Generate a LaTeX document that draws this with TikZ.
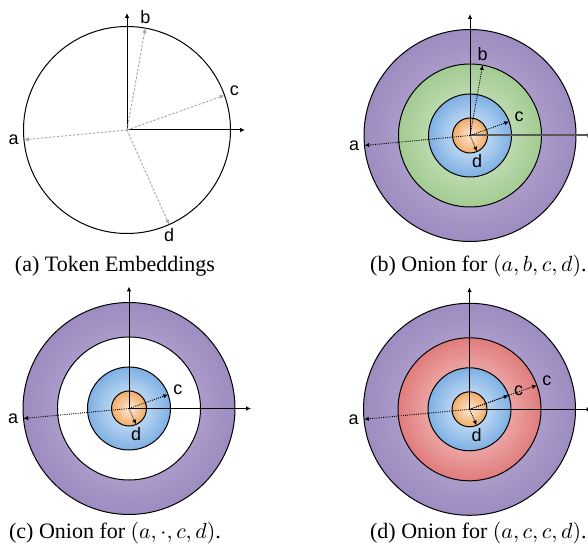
\documentclass[tikz,border=0pt]{standalone}
\usepackage{fontspec}
\setmainfont{Liberation Serif}
\setsansfont{Liberation Sans}
\usetikzlibrary{arrows.meta,calc}
\definecolor{purpleIn}{HTML}{C6BADF}
\definecolor{purpleOut}{HTML}{9C8CC0}
\definecolor{greenIn}{HTML}{DCEDD3}
\definecolor{greenOut}{HTML}{A3CB92}
\definecolor{redIn}{HTML}{FCDADA}
\definecolor{redOut}{HTML}{E07C7C}
\definecolor{blueIn}{HTML}{E2EFFB}
\definecolor{blueOut}{HTML}{7EB0E3}
\definecolor{orangeIn}{HTML}{FDE8D6}
\definecolor{orangeOut}{HTML}{F0AC68}
\tikzset{
  axis/.style={-{Latex[length=2.4pt,width=2.2pt]},line width=0.5pt},
  thickaxis/.style={-{Latex[length=2.4pt,width=2.2pt]},line width=1pt,draw=black!65},
  embvec/.style={-{Latex[length=2.4pt,width=2.2pt]},draw=black!35,line width=0.45pt,dash pattern=on 1.2pt off 0.8pt},
  onionvec/.style={-{Latex[length=2.4pt,width=2.2pt]},line width=0.45pt,dash pattern=on 0.5pt off 0.6pt},
  shell/.style={draw,line width=0.5pt},
  veclab/.style={font=\sffamily\fontsize{9}{10}\selectfont,inner sep=1pt},
  subcap/.style={font=\fontsize{11}{13}\selectfont,inner sep=0pt}
}

\begin{document}
\begin{tikzpicture}[x=0.5pt,y=0.5pt]
\useasboundingbox (0,0) rectangle (588,551);

% (a) token embeddings
\coordinate (Oa) at (127,421);
\draw[shell] (Oa) circle[radius=103.5];
\draw[axis] (Oa) -- ($(Oa)+(0,117)$) coordinate (Oa-y);
\draw[axis] (Oa) -- ($(Oa)+(118,0)$) coordinate (Oa-x);
\coordinate (a-a) at ($(Oa)+(185.4:103.5)$);
\coordinate (a-b) at ($(Oa)+(79.8:103.5)$);
\coordinate (a-c) at ($(Oa)+(19.6:103.5)$);
\coordinate (a-d) at ($(Oa)+(-66:103.5)$);
\foreach \v in {a,b,c,d}
  \draw[embvec] (Oa) -- (a-\v);
\node[veclab, left=1.5pt] (la-a) at (a-a) {a};
\node[veclab, above=1pt] (la-b) at (a-b) {b};
\node[veclab, right=1.5pt, yshift=2.5pt] (la-c) at (a-c) {c};
\node[veclab, below=1pt] (la-d) at (a-d) {d};
\node[subcap] (cap-a) at (115,285) {(a) Token Embeddings};

% (b) onion for (a,b,c,d)
\coordinate (Ob) at (470,415.5);
\draw[shell, inner color=purpleIn, outer color=purpleOut] (Ob) circle[radius=106];
\draw[shell, inner color=greenIn, outer color=greenOut] (Ob) circle[radius=71.5];
\draw[shell, inner color=blueIn, outer color=blueOut] (Ob) circle[radius=41.5];
\draw[shell, inner color=orangeIn, outer color=orangeOut] (Ob) circle[radius=17.5];
\draw[axis] (Ob) -- ($(Ob)+(0,121.5)$) coordinate (Ob-y);
\draw[thickaxis] (Ob) -- ($(Ob)+(122,0)$) coordinate (Ob-x);
\coordinate (b-a) at ($(Ob)+(185.4:106)$);
\coordinate (b-b) at ($(Ob)+(79.8:71.5)$);
\coordinate (b-c) at ($(Ob)+(19.6:41.5)$);
\coordinate (b-d) at ($(Ob)+(-66:17.5)$);
\foreach \v in {a,b,c,d}
  \draw[onionvec] (Ob) -- (b-\v);
\node[veclab, left=1.5pt] (lb-a) at (b-a) {a};
\node[veclab, above=1pt] (lb-b) at (b-b) {b};
\node[veclab, right=1.5pt, yshift=2.5pt] (lb-c) at (b-c) {c};
\node[veclab, below=0.5pt] (lb-d) at (b-d) {d};
\node[subcap, anchor=east] (cap-b) at (587,285) {(b) Onion for $(a,b,c,d)$.};

% (c) onion for (a,.,c,d)
\coordinate (Oc) at (129,142.5);
\draw[shell, inner color=purpleIn, outer color=purpleOut] (Oc) circle[radius=106];
\draw[shell, fill=white] (Oc) circle[radius=71.5];
\draw[shell, inner color=blueIn, outer color=blueOut] (Oc) circle[radius=41.5];
\draw[shell, inner color=orangeIn, outer color=orangeOut] (Oc) circle[radius=17.5];
\draw[axis] (Oc) -- ($(Oc)+(0,122)$) coordinate (Oc-y);
\draw[axis] (Oc) -- ($(Oc)+(122,0)$) coordinate (Oc-x);
\coordinate (c-a) at ($(Oc)+(185.4:106)$);
\coordinate (c-c) at ($(Oc)+(19.6:41.5)$);
\coordinate (c-d) at ($(Oc)+(-66:17.5)$);
\foreach \v in {a,c,d}
  \draw[onionvec] (Oc) -- (c-\v);
\node[veclab, left=1.5pt] (lc-a) at (c-a) {a};
\node[veclab, right=1.5pt, yshift=2.5pt] (lc-c) at (c-c) {c};
\node[veclab, below=0.5pt] (lc-d) at (c-d) {d};
\node[subcap] (cap-c) at (115,18) {(c) Onion for $(a,\cdot,c,d)$.};

% (d) onion for (a,c,c,d)
\coordinate (Od) at (469.5,141.7);
\draw[shell, inner color=purpleIn, outer color=purpleOut] (Od) circle[radius=106];
\draw[shell, inner color=redIn, outer color=redOut] (Od) circle[radius=71.5];
\draw[shell, inner color=blueIn, outer color=blueOut] (Od) circle[radius=41.5];
\draw[shell, inner color=orangeIn, outer color=orangeOut] (Od) circle[radius=17.5];
\draw[axis] (Od) -- ($(Od)+(0,122)$) coordinate (Od-y);
\draw[axis] (Od) -- ($(Od)+(122,0)$) coordinate (Od-x);
\coordinate (d-a) at ($(Od)+(185.4:106)$);
\coordinate (d-b) at ($(Od)+(19.6:71.5)$);
\coordinate (d-c) at ($(Od)+(19.6:41.5)$);
\coordinate (d-d) at ($(Od)+(-66:17.5)$);
\foreach \v in {a,b,c,d}
  \draw[onionvec] (Od) -- (d-\v);
\node[veclab, left=1.5pt] (ld-a) at (d-a) {a};
\node[veclab, right=1.5pt, yshift=2.5pt] (ld-b) at (d-b) {c};
\node[veclab, right=1.5pt, yshift=2.5pt] (ld-c) at (d-c) {c};
\node[veclab, below=0.5pt] (ld-d) at (d-d) {d};
\node[subcap, anchor=east] (cap-d) at (587,18) {(d) Onion for $(a,c,c,d)$.};
\end{tikzpicture}
\end{document}
